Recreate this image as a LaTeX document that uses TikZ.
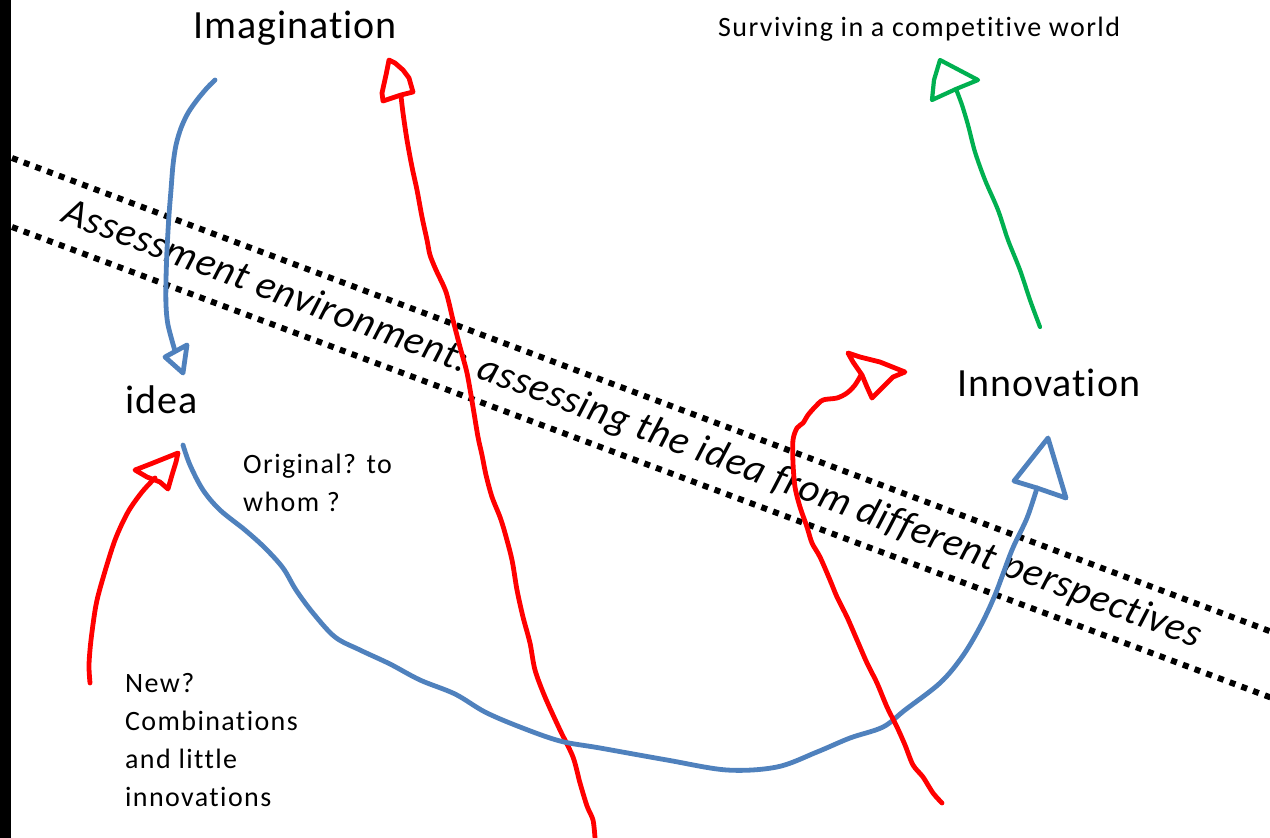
\documentclass[tikz,border=0pt]{standalone}
\usepackage{fontspec}
\setmainfont{Carlito}[Ligatures=NoCommon]
\definecolor{ired}{RGB}{255,0,0}
\definecolor{iblue}{RGB}{79,129,189}
\definecolor{igreen}{RGB}{0,176,80}
\begin{document}
\begin{tikzpicture}[x=1pt,y=-1pt,
  pen/.style={line width=4.8pt, line cap=round, line join=round},
  redpen/.style={pen, draw=ired},
  bluepen/.style={pen, draw=iblue},
  greenpen/.style={pen, draw=igreen, line width=4.2pt},
  dotline/.style={draw=black, line width=6pt, dash pattern=on 6pt off 6.5pt},
  big/.style={inner sep=0pt, anchor=base west, font=\fontsize{40}{44}\selectfont\addfontfeatures{LetterSpace=2.5}},
  small/.style={inner sep=0pt, anchor=base west, align=left, font=\fontsize{28}{38}\selectfont\addfontfeatures{LetterSpace=5}},
  band/.style={inner sep=0pt, rotate=-20.56, font=\itshape\fontsize{40}{44}\selectfont\addfontfeatures{LetterSpace=2}}]
\useasboundingbox (0,0) rectangle (1270,838);
\fill[white] (0,0) rectangle (1270,838);
\fill[black] (0,0) rectangle (11,838);

% assessment band
\coordinate (u1) at (12,158);
\coordinate (u2) at (1272,632);
\coordinate (l1) at (12,227);
\coordinate (l2) at (1272,698);
\draw[dotline] (u1) -- (u2);
\draw[dotline] (l1) -- (l2);
\node[band] (assess) at (632,425) {Assessment environment: assessing the idea from different perspectives};

% texts
\node[big] (imag) at (193,38) {Imagination};
\node[small] (surv) at (718,36) {Surviving in a competitive world};
\node[big] (idea) at (125,413) {idea};
\node[big] (innov) at (957,396) {Innovation};
\node[small] (orig) at (243,511) {Original? to\\whom ?};
\node[small] (new) at (125,806) {New?\\Combinations\\and little\\innovations};

% blue: imagination -> idea
\coordinate (b1s) at (215,80);
\coordinate (b1e) at (175,351);
\draw[bluepen] plot[smooth, tension=0.5] coordinates {(b1s) (207,88) (197,100) (188,113) (181,128) (176,145) (173,165) (171,190) (169,215) (167,250) (166,280) (166,305) (168,325) (b1e)};
\draw[bluepen] (165,357) -- (187,345) -- (183,373) -- cycle;

% red long arrow
\coordinate (r1s) at (595,838);
\coordinate (r1e) at (401,96);
\draw[redpen] plot[smooth, tension=0.5] coordinates {(r1s) (593,820) (587,806) (580,783) (573,757) (560,730) (545,697) (535,670) (530,643) (523,617) (517,590) (512,560) (505,533) (500,517) (492,497) (486,475) (482,455) (478,437) (473,407) (467,373) (460,347) (453,320) (446,292) (436,270) (430,255) (427,240) (422,217) (417,190) (412,167) (407,140) (403,113) (r1e)};
\draw[redpen] (389,60) -- (395,63) -- (403,70) -- (409,78) -- (413,92) -- (401,95) -- (383,101) -- (382,93) -- (386,75) -- cycle;

% red small arrow to idea
\coordinate (r2s) at (90,683);
\coordinate (r2e) at (155,478);
\draw[redpen] plot[smooth, tension=0.5] coordinates {(r2s) (89,665) (91,640) (96,605) (103,578) (115,540) (128,512) (142,492) (r2e)};
\draw[redpen] (178,453) -- (153,463) -- (135,470) -- (147,477) -- (160,482) -- (168,489) -- (172,475) -- (176,462) -- cycle;

% blue: idea -> innovation
\coordinate (b2s) at (183,445);
\coordinate (b2e) at (1037,488);
\draw[bluepen] plot[smooth, tension=0.55] coordinates {(b2s) (190,465) (203,490) (220,510) (245,530) (265,548) (283,568) (296,590) (313,613) (335,637) (360,650) (390,664) (420,680) (455,694) (485,712) (520,727) (560,741) (600,748) (667,760) (727,770) (777,767) (817,752) (850,738) (883,727) (905,710) (940,683) (962,657) (980,627) (995,595) (1012,550) (1027,518) (b2e)};
\draw[bluepen] (1048,438) -- (1014,481) -- (b2e) -- (1066,498) -- cycle;

% red right arrow
\coordinate (r3s) at (942,803);
\coordinate (r3e) at (861,375);
\draw[redpen] plot[smooth, tension=0.5] coordinates {(r3s) (933,793) (923,777) (913,765) (905,745) (897,727) (887,707) (877,683) (867,663) (857,640) (847,617) (837,597) (830,580) (820,557) (812,543) (807,527) (800,507) (795,487) (793,463) (793,440) (797,428) (803,423) (808,415) (815,407) (823,400) (837,398) (847,393) (855,385) (r3e)};
\draw[redpen] (848,353) -- (860,357) -- (880,362) -- (905,372) -- (893,377) -- (880,390) -- (872,398) -- (867,387) -- (862,375) -- (853,362) -- cycle;

% green arrow
\coordinate (gs) at (1040,327);
\coordinate (ge) at (956,89);
\draw[greenpen] plot[smooth, tension=0.5] coordinates {(gs) (1030,300) (1020,270) (1008,240) (998,210) (985,180) (975,152) (968,125) (962,105) (ge)};
\draw[greenpen] (940,60) -- (978,80) -- (ge) -- (932,100) -- (934,80) -- cycle;
\end{tikzpicture}
\end{document}
